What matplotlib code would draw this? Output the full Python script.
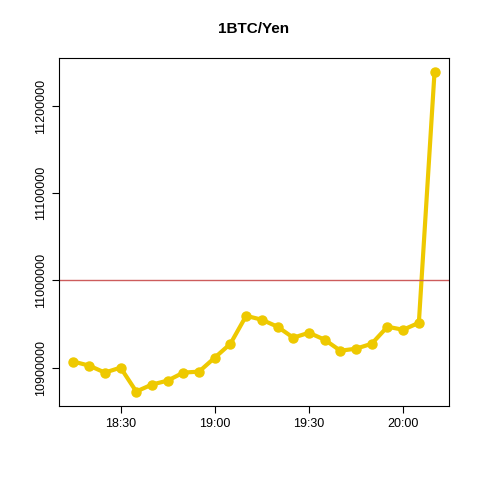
import matplotlib
matplotlib.use('Agg')
import matplotlib.pyplot as plt
import matplotlib.dates as mdates
import pandas as pd

times = pd.date_range('2020-01-01 18:15', '2020-01-01 20:10', freq='5min')
prices = [10906900, 10902300, 10894300, 10900000, 10872600, 10880600,
          10885100, 10894300, 10895400, 10911400, 10927400, 10959400,
          10954900, 10946900, 10934300, 10940000, 10932000, 10919400,
          10921700, 10927400, 10946900, 10943400, 10951400, 11239400]
ref_price = 11000000
tick_times = pd.to_datetime(['2020-01-01 18:30', '2020-01-01 19:00',
                             '2020-01-01 19:30', '2020-01-01 20:00'])

plt.rcParams['font.family'] = ['Liberation Sans', 'DejaVu Sans']
fig = plt.figure(figsize=(4.8, 4.8), dpi=100)
ax = fig.add_axes([59/480, 74/480, 390/480, 348/480])

ax.plot(times, prices, color='#EEC900', linewidth=3, marker='o', markersize=6.5)
ax.axhline(ref_price, color='#CD5C5C', linewidth=1)

span = times[-1] - times[0]
ax.set_xlim(times[0] - span * 0.04, times[-1] + span * 0.04)
ax.set_ylim(10856000, 11255000)
ax.set_xticks(tick_times)
ax.xaxis.set_major_formatter(mdates.DateFormatter('%H:%M'))
ax.set_yticks([10900000, 11000000, 11100000, 11200000])
ax.set_yticklabels(['10900000', '11000000', '11100000', '11200000'], rotation=90, va='center')
ax.tick_params(labelsize=9, length=5)
ax.set_title('1BTC/Yen', fontsize=11, fontweight='bold', pad=18)

fig.savefig('out.png', dpi=100)
